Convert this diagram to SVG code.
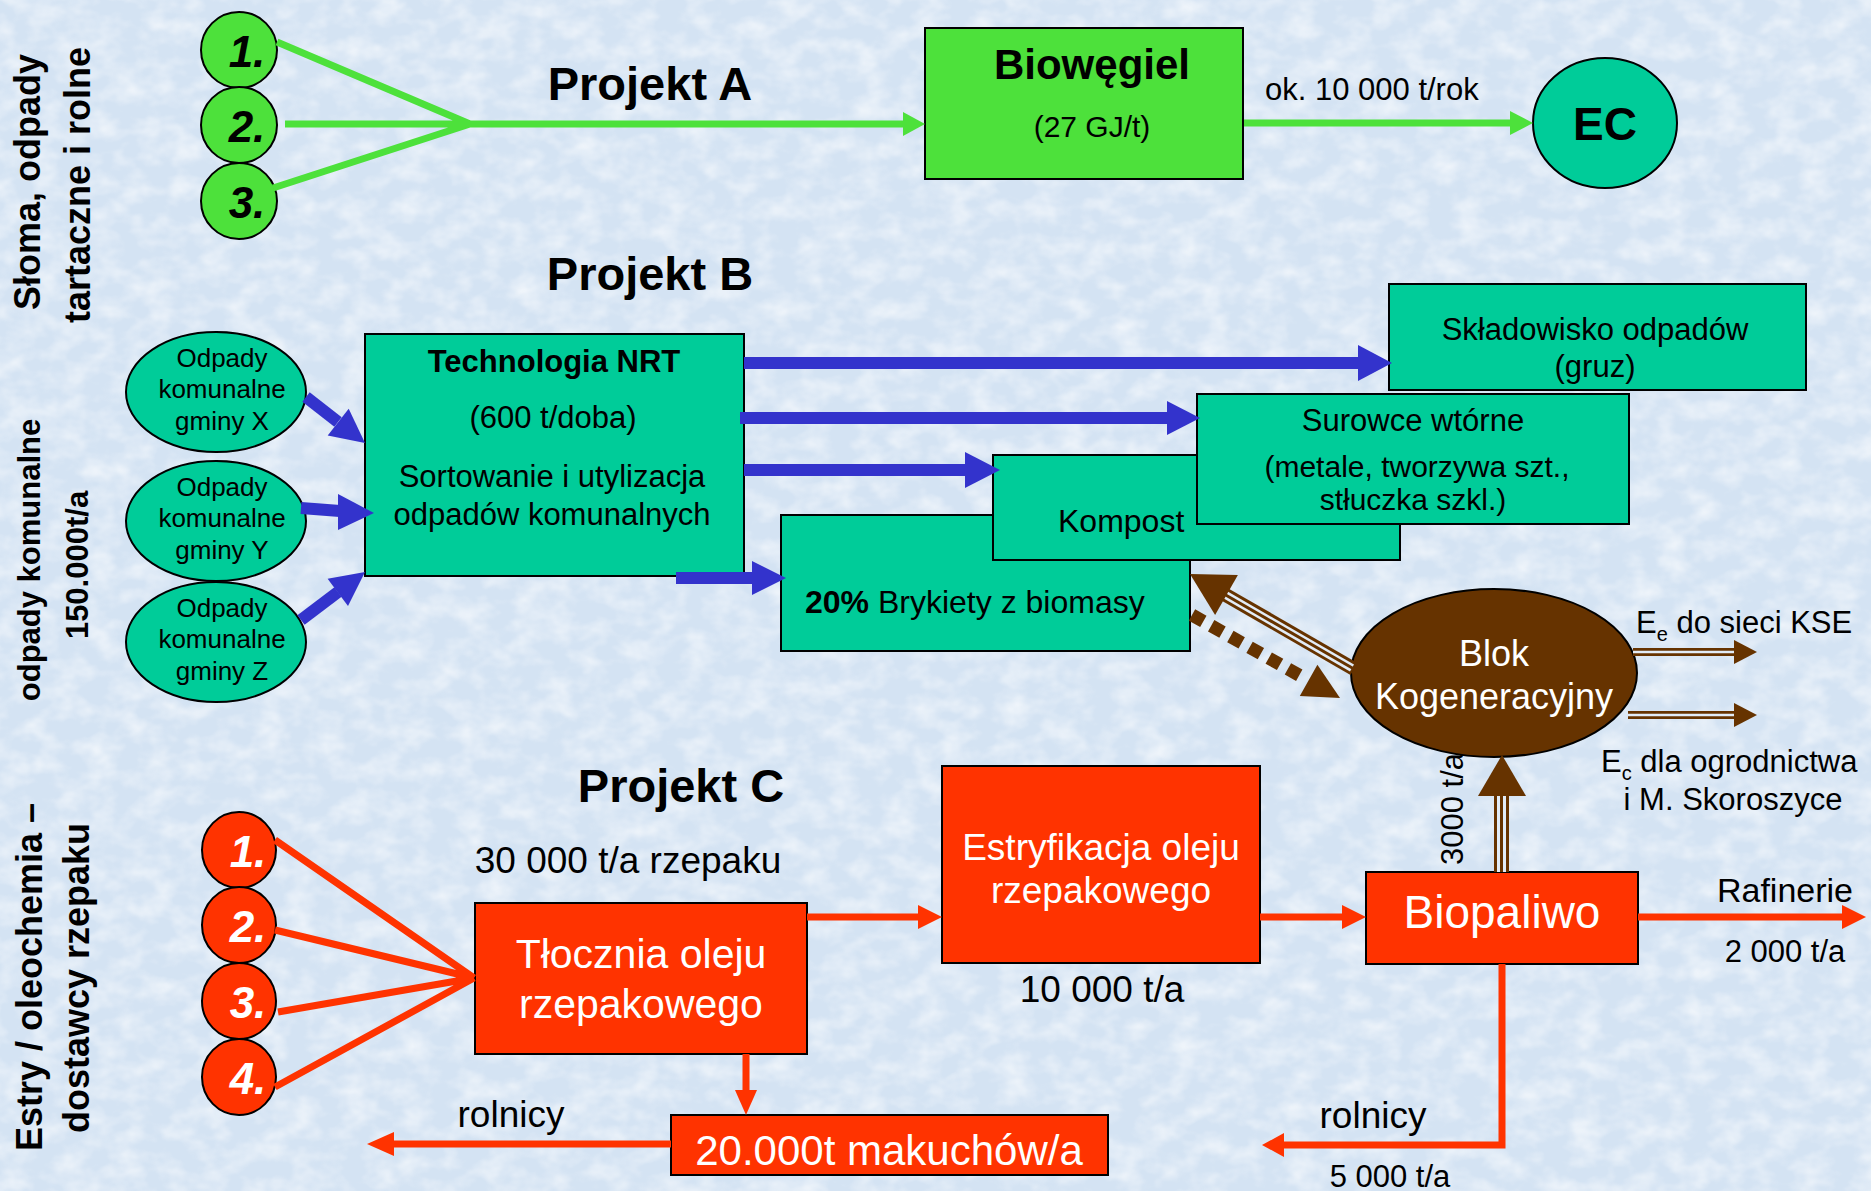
<svg xmlns="http://www.w3.org/2000/svg" width="1871" height="1191" viewBox="0 0 1871 1191">
<defs>
<filter id="tex" x="0" y="0" width="100%" height="100%">
<feTurbulence type="fractalNoise" baseFrequency="0.035 0.05" numOctaves="3" seed="7"/>
<feColorMatrix type="matrix" values="0 0 0 0 1  0 0 0 0 1  0 0 0 0 1  0 0 0 1.6 -0.6"/>
</filter>
</defs>
<style>
text{font-family:"Liberation Sans",Arial,sans-serif;fill:#000}
.b{font-weight:bold}
.w{fill:#fff}
.m{text-anchor:middle}
.bi{font-weight:bold;font-style:italic}
.box{stroke:#000;stroke-width:2}
.g{fill:#4de13b}
.tl{fill:#00cc99}
.rd{fill:#ff3300}
.br{fill:#663300}
.gl{stroke:#4de13b;stroke-width:7;fill:none}
.bl{stroke:#3333cc;stroke-width:12;fill:none}
.rl{stroke:#ff3300;stroke-width:7;fill:none}
.bh{fill:#3333cc}
.gh{fill:#4de13b}
.rh{fill:#ff3300}
.brh{fill:#663300}
.bro{stroke:#663300;fill:none}
.gap{stroke:#e2ecf7;fill:none}
</style>
<rect width="1871" height="1191" fill="#d4e3f3"/>
<rect width="1871" height="1191" filter="url(#tex)" opacity="0.7"/>

<g id="labels">
<text class="b m" font-size="36" transform="translate(40,182) rotate(-90)">Słoma, odpady</text>
<text class="b m" font-size="36" transform="translate(90,185) rotate(-90)">tartaczne i rolne</text>
<text class="b m" font-size="31" transform="translate(40,560) rotate(-90)">odpady komunalne</text>
<text class="b m" font-size="31" transform="translate(88,565) rotate(-90)">150.000t/a</text>
<text class="b m" font-size="36" transform="translate(42,977) rotate(-90)">Estry / oleochemia –</text>
<text class="b m" font-size="36" transform="translate(89,978) rotate(-90)">dostawcy rzepaku</text>
<text class="b m" font-size="47" x="650" y="100">Projekt A</text>
<text class="b m" font-size="47" x="650" y="290">Projekt B</text>
<text class="b m" font-size="47" x="681" y="802">Projekt C</text>
<text font-size="31" x="1265" y="100">ok. 10 000 t/rok</text>
<text class="m" font-size="37" x="628" y="873">30 000 t/a rzepaku</text>
<text class="m" font-size="37" x="1102" y="1002">10 000 t/a</text>
<text class="m" font-size="34" x="1785" y="902">Rafinerie</text>
<text class="m" font-size="31" x="1785" y="962">2 000 t/a</text>
<text class="m" font-size="37" x="511" y="1127">rolnicy</text>
<text class="m" font-size="37" x="1373" y="1128">rolnicy</text>
<text class="m" font-size="31" x="1390" y="1187">5 000 t/a</text>
<text class="m" font-size="31" transform="translate(1463,809) rotate(-90)">3000 t/a</text>
<text font-size="31" x="1636" y="633">E<tspan font-size="20" dy="8">e</tspan><tspan dy="-8"> do sieci KSE</tspan></text>
<text font-size="31" x="1601" y="772">E<tspan font-size="20" dy="8">c</tspan><tspan dy="-8"> dla ogrodnictwa</tspan></text>
<text class="m" font-size="31" x="1733" y="810">i M. Skoroszyce</text>
</g>

<g id="g1"><ellipse class="g box" cx="239" cy="50" rx="38" ry="38"/><text class="bi m" font-size="44" x="247" y="67">1.</text></g>
<g id="g2"><ellipse class="g box" cx="239" cy="125" rx="38" ry="38"/><text class="bi m" font-size="44" x="247" y="142">2.</text></g>
<g id="g3"><ellipse class="g box" cx="239" cy="201" rx="38" ry="38"/><text class="bi m" font-size="44" x="247" y="218">3.</text></g>

<g id="biowegiel"><rect class="g box" x="925" y="28" width="318" height="151"/>
<text class="b m" font-size="42" x="1092" y="79">Biowęgiel</text>
<text class="m" font-size="30" x="1092" y="137">(27 GJ/t)</text></g>

<g id="ec"><ellipse class="tl box" cx="1605" cy="123" rx="72" ry="65"/><text class="b m" font-size="46" x="1605" y="140">EC</text></g>

<g id="gx"><ellipse class="tl box" cx="216" cy="392" rx="90" ry="60"/>
<text class="m" font-size="26" x="222"><tspan x="222" y="367">Odpady</tspan><tspan x="222" y="398">komunalne</tspan><tspan x="222" y="430">gminy X</tspan></text></g>
<g id="gy"><ellipse class="tl box" cx="216" cy="521" rx="90" ry="60"/>
<text class="m" font-size="26" x="222"><tspan x="222" y="496">Odpady</tspan><tspan x="222" y="527">komunalne</tspan><tspan x="222" y="559">gminy Y</tspan></text></g>
<g id="gz"><ellipse class="tl box" cx="216" cy="642" rx="90" ry="60"/>
<text class="m" font-size="26" x="222"><tspan x="222" y="617">Odpady</tspan><tspan x="222" y="648">komunalne</tspan><tspan x="222" y="680">gminy Z</tspan></text></g>

<g id="nrt"><rect class="tl box" x="365" y="334" width="379" height="242"/>
<text class="b m" font-size="31" x="554" y="372">Technologia NRT</text>
<text class="m" font-size="31" x="553" y="428">(600 t/doba)</text>
<text class="m" font-size="31" x="552" y="487">Sortowanie i utylizacja</text>
<text class="m" font-size="31" x="552" y="525">odpadów komunalnych</text></g>

<g id="brykiety"><rect class="tl box" x="781" y="515" width="409" height="136"/>
<text font-size="32" x="805" y="613"><tspan class="b">20%</tspan> Brykiety z biomasy</text></g>

<g id="kompost"><rect class="tl box" x="993" y="455" width="407" height="105"/>
<text font-size="32" x="1058" y="532">Kompost</text></g>

<g id="surowce"><rect class="tl box" x="1197" y="394" width="432" height="130"/>
<text class="m" font-size="31" x="1413" y="431">Surowce wtórne</text>
<text class="m" font-size="30" x="1417" y="477">(metale, tworzywa szt.,</text>
<text class="m" font-size="30" x="1413" y="510">stłuczka szkl.)</text></g>

<g id="skladowisko"><rect class="tl box" x="1389" y="284" width="417" height="106"/>
<text class="m" font-size="31" x="1595" y="340">Składowisko odpadów</text>
<text class="m" font-size="31" x="1595" y="377">(gruz)</text></g>

<g id="blok"><ellipse class="br box" cx="1494" cy="673" rx="143" ry="84"/>
<text class="w m" font-size="36" x="1494" y="666">Blok</text>
<text class="w m" font-size="36" x="1494" y="709">Kogeneracyjny</text></g>

<g id="r1"><ellipse class="rd box" cx="239" cy="850" rx="37" ry="38"/><text class="bi m w" font-size="44" x="248" y="867">1.</text></g>
<g id="r2"><ellipse class="rd box" cx="239" cy="925" rx="37" ry="38"/><text class="bi m w" font-size="44" x="248" y="942">2.</text></g>
<g id="r3"><ellipse class="rd box" cx="239" cy="1001" rx="37" ry="38"/><text class="bi m w" font-size="44" x="248" y="1018">3.</text></g>
<g id="r4"><ellipse class="rd box" cx="239" cy="1077" rx="37" ry="38"/><text class="bi m w" font-size="44" x="248" y="1094">4.</text></g>

<g id="tlocznia"><rect class="rd box" x="475" y="903" width="332" height="151"/>
<text class="w m" font-size="41" x="641" y="968">Tłocznia oleju</text>
<text class="w m" font-size="41" x="641" y="1018">rzepakowego</text></g>

<g id="estryfikacja"><rect class="rd box" x="942" y="766" width="318" height="197"/>
<text class="w m" font-size="37" x="1101" y="860">Estryfikacja oleju</text>
<text class="w m" font-size="37" x="1101" y="903">rzepakowego</text></g>

<g id="biopaliwo"><rect class="rd box" x="1366" y="872" width="272" height="92"/>
<text class="w m" font-size="46" x="1502" y="928">Biopaliwo</text></g>

<g id="makuchy"><rect class="rd box" x="671" y="1115" width="437" height="60"/>
<text class="w m" font-size="42" x="889" y="1165">20.000t makuchów/a</text></g>

<g id="connectors">
<path class="gl" d="M277,42 L470,124 M273,188 L470,124 M285,124 L905,124"/>
<polygon class="gh" points="903,112 925,124 903,136"/>
<path class="gl" d="M1244,123 L1512,123"/>
<polygon class="gh" points="1510,111 1533,123 1510,135"/>

<path class="bl" d="M306,397 L338,422"/>
<polygon class="bh" points="365,443 327.7,435.5 348.7,408.7"/>
<path class="bl" d="M301,508 L340,511"/>
<polygon class="bh" points="374,513 338,494 338,530"/>
<path class="bl" d="M301,620 L338,592"/>
<polygon class="bh" points="365,572 348,606 327.6,578.8"/>

<path class="bl" d="M744,363 L1360,363"/>
<polygon class="bh" points="1358,345 1392,363 1358,381"/>
<path class="bl" d="M740,418 L1169,418"/>
<polygon class="bh" points="1167,401 1200,418 1167,435"/>
<path class="bl" d="M744,470 L967,470"/>
<polygon class="bh" points="965,452 1000,470 965,488"/>
<path class="bl" d="M676,578 L754,578"/>
<polygon class="bh" points="752,561 786,578 752,595"/>

<path class="bro" stroke-width="14" d="M1354,669 L1224,594"/>
<path class="gap" stroke-width="8" d="M1352,668 L1224,594"/>
<path class="bro" stroke-width="3" d="M1354,669 L1224,594"/>
<polygon class="brh" points="1190,574 1237.9,574.9 1215.1,614.9"/>

<path class="bro" stroke-width="13" stroke-dasharray="13 9" d="M1192,615 L1306,679"/>
<polygon class="brh" points="1340,698 1299.8,696.1 1317.4,664.7"/>

<path class="bro" stroke-width="8" d="M1633,652 L1736,652"/>
<path class="gap" stroke-width="2.5" d="M1633,652 L1734,652"/>
<polygon class="brh" points="1734,640 1757,652 1734,664"/>
<path class="bro" stroke-width="8" d="M1628,715 L1736,715"/>
<path class="gap" stroke-width="2.5" d="M1628,715 L1734,715"/>
<polygon class="brh" points="1734,703 1757,715 1734,727"/>

<path class="bro" stroke-width="15" d="M1501.5,872 L1501.5,793"/>
<path class="gap" stroke-width="9" d="M1501.5,872 L1501.5,795"/>
<path class="bro" stroke-width="3" d="M1501.5,872 L1501.5,793"/>
<polygon class="brh" points="1502,755 1526,796 1478,796"/>

<path class="rl" d="M275,840 L474,978 M275,930 L474,978 M278,1012 L474,978 M275,1087 L474,978"/>
<path class="rl" d="M807,917 L920,917"/>
<polygon class="rh" points="918,905 942,917 918,929"/>
<path class="rl" d="M1260,917 L1344,917"/>
<polygon class="rh" points="1342,905 1366,917 1342,929"/>
<path class="rl" d="M1638,917 L1844,917"/>
<polygon class="rh" points="1842,905 1866,917 1842,929"/>
<path class="rl" d="M746,1054 L746,1092"/>
<polygon class="rh" points="735,1090 746,1115 757,1090"/>
<path class="rl" d="M671,1144 L392,1144"/>
<polygon class="rh" points="394,1132 367,1144 394,1156"/>
<path class="rl" d="M1502,964 L1502,1145 L1282,1145"/>
<polygon class="rh" points="1284,1133 1262,1145 1284,1157"/>
</g>
</svg>
